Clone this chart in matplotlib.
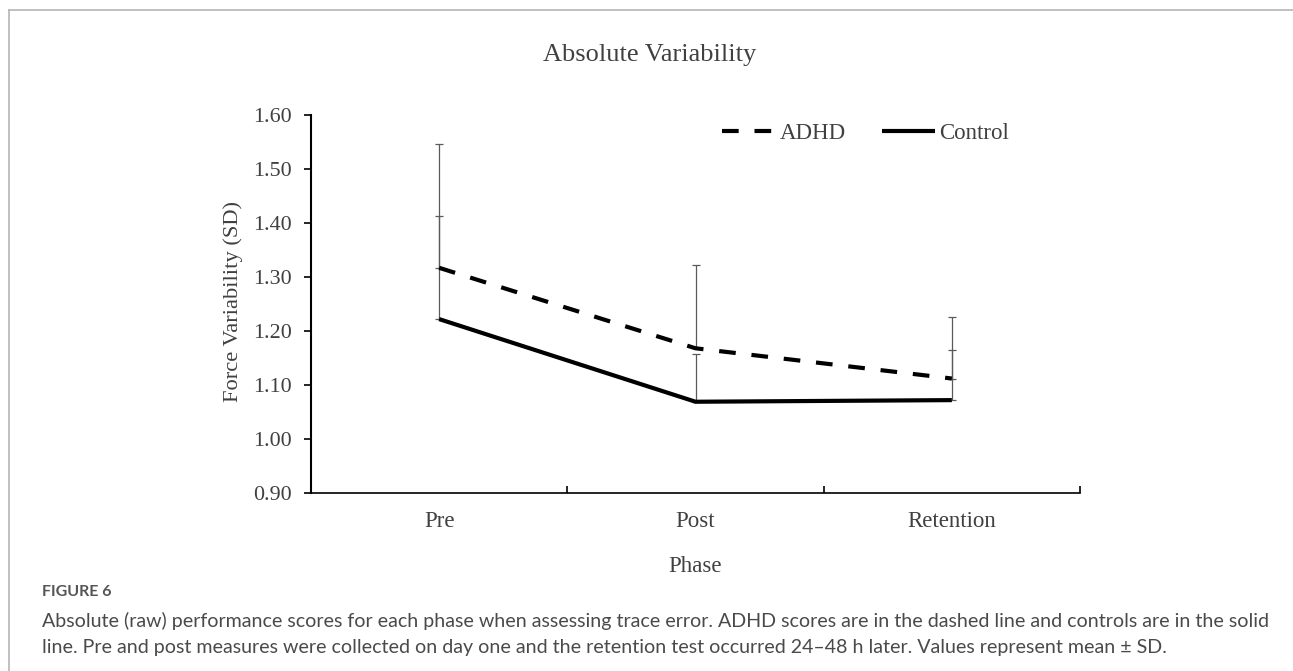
import numpy as np
import matplotlib
matplotlib.use('Agg')
import matplotlib.pyplot as plt
from matplotlib.lines import Line2D

# data
phases = ["Pre", "Post", "Retention"]
adhd_mean = [1.317, 1.168, 1.112]
adhd_sd = [0.229, 0.154, 0.114]
control_mean = [1.222, 1.069, 1.072]
control_sd = [0.191, 0.088, 0.093]
y_ticks = [0.90, 1.00, 1.10, 1.20, 1.30, 1.40, 1.50, 1.60]

W, H = 1293, 671
serif = ["Liberation Serif", "DejaVu Serif"]
text_col = "#404040"

fig = plt.figure(figsize=(W / 100, H / 100), dpi=100)
ax = fig.add_axes([311 / W, 1 - 493 / H, (1080 - 311) / W, (493 - 115) / H])

x = np.arange(len(phases))
err_kw = dict(fmt="none", ecolor="#5a5a5a", elinewidth=0.9, capsize=3, capthick=0.9, zorder=2)
ax.errorbar(x, adhd_mean, yerr=[np.zeros(len(x)), adhd_sd], **err_kw)
ax.errorbar(x, control_mean, yerr=[np.zeros(len(x)), control_sd], **err_kw)

ax.plot(x, adhd_mean, color="black", lw=3, dashes=(4, 3.8), dash_capstyle="butt",
        label="ADHD", zorder=3)
ax.plot(x, control_mean, color="black", lw=3, solid_capstyle="butt",
        label="Control", zorder=3)

ax.set_xlim(-0.5, 2.5)
ax.set_ylim(0.90, 1.60)
ax.set_yticks(y_ticks)
ax.set_yticklabels([f"{v:.2f}" for v in y_ticks], fontfamily=serif, fontsize=15.8, color=text_col)
ax.tick_params(axis="y", direction="out", length=5, width=1.2, pad=9)

# category boundaries as major ticks, labels on minor ticks
ax.set_xticks([-0.5, 0.5, 1.5, 2.5])
ax.set_xticklabels([])
ax.set_xticks(x, minor=True)
ax.set_xticklabels(phases, minor=True, fontfamily=serif, fontsize=16.5, color=text_col)
ax.tick_params(axis="x", which="major", direction="in", length=5, width=1.2)
ax.tick_params(axis="x", which="minor", length=0, pad=13)

ax.spines["top"].set_visible(False)
ax.spines["right"].set_visible(False)
ax.spines["left"].set_linewidth(1.5)
ax.spines["bottom"].set_linewidth(1.2)

leg = ax.legend(loc="center left", bbox_to_anchor=(722 / W, 1 - 133 / H),
                bbox_transform=fig.transFigure, ncol=2, frameon=False,
                handlelength=2.3, handletextpad=0.2, columnspacing=1.6,
                borderpad=0, borderaxespad=0,
                prop={"family": serif, "size": 16.5})
for t in leg.get_texts():
    t.set_color(text_col)

fig.text(650 / W, 1 - 55 / H, "Absolute Variability", ha="center", va="center",
         fontfamily=serif, fontsize=19, color=text_col)
fig.text(233 / W, 1 - 302 / H, "Force Variability (SD)", rotation=90, ha="center",
         va="center", fontfamily=serif, fontsize=16.2, color=text_col)
fig.text(695 / W, 1 - 567 / H, "Phase", ha="center", va="center",
         fontfamily=serif, fontsize=16.5, color=text_col)

# caption
fig.text(42 / W, 1 - 592 / H, "FIGURE 6", ha="left", va="center",
         fontfamily="Lato", fontweight="bold", fontsize=11.5, color="#555555")
cap1 = ("Absolute (raw) performance scores for each phase when assessing trace error. "
        "ADHD scores are in the dashed line and controls are in the solid")
cap2 = ("line. Pre and post measures were collected on day one and the retention test "
        "occurred 24\u201348 h later. Values represent mean \u00b1 SD.")
fig.text(42 / W, 1 - 621 / H, cap1, ha="left", va="center",
         fontfamily="Lato", fontsize=14.1, color="#4a4a4a")
fig.text(42 / W, 1 - 647 / H, cap2, ha="left", va="center",
         fontfamily="Lato", fontsize=14.1, color="#4a4a4a")

# frame lines on top and left
fig.add_artist(Line2D([9 / W, 1], [1 - 10 / H, 1 - 10 / H], color="#b5b5b5", lw=1.2))
fig.add_artist(Line2D([9 / W, 9 / W], [0, 1 - 10 / H], color="#b5b5b5", lw=1.2))

fig.savefig("out.png", dpi=100)
